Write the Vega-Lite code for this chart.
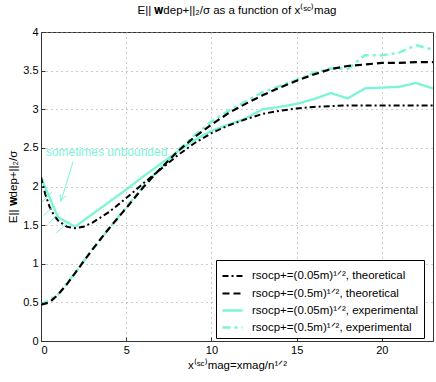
{
  "$schema": "https://vega.github.io/schema/vega-lite/v6.json",
  "width": 392,
  "height": 309,
  "autosize": {"type": "none"},
  "padding": {"left": 41, "top": 32, "right": 3, "bottom": 41},
  "background": "white",
  "config": {
    "font": "Liberation Sans",
    "view": {"stroke": "#333333", "strokeWidth": 1},
    "axis": {
      "labelFont": "Liberation Sans", "labelFontSize": 11, "labelColor": "black",
      "titleFont": "Liberation Sans", "titleFontSize": 11.5, "titleFontWeight": "normal", "titleColor": "black",
      "domainColor": "#333333", "tickColor": "#333333",
      "gridColor": "#9a9a9a", "gridDash": [1, 4], "gridWidth": 1,
      "tickSize": -4, "labelPadding": 7, "labelOverlap": false
    }
  },
  "title": {
    "text": "E|| 𝐰dep+||₂/σ as a function of x⁽ˢᶜ⁾mag",
    "font": "Liberation Sans", "fontSize": 11.5, "fontWeight": "normal", "color": "black",
    "anchor": "middle", "offset": 10
  },
  "datasets": {
    "curves": [
      {"series": "rsocp+=(0.05m)¹ᐟ², theoretical", "x": 0, "y": 2.12},
      {"series": "rsocp+=(0.05m)¹ᐟ², theoretical", "x": 0.25, "y": 1.9},
      {"series": "rsocp+=(0.05m)¹ᐟ², theoretical", "x": 0.5, "y": 1.74},
      {"series": "rsocp+=(0.05m)¹ᐟ², theoretical", "x": 0.75, "y": 1.63},
      {"series": "rsocp+=(0.05m)¹ᐟ², theoretical", "x": 1, "y": 1.56},
      {"series": "rsocp+=(0.05m)¹ᐟ², theoretical", "x": 1.5, "y": 1.48},
      {"series": "rsocp+=(0.05m)¹ᐟ², theoretical", "x": 2, "y": 1.46},
      {"series": "rsocp+=(0.05m)¹ᐟ², theoretical", "x": 2.5, "y": 1.48},
      {"series": "rsocp+=(0.05m)¹ᐟ², theoretical", "x": 3, "y": 1.53},
      {"series": "rsocp+=(0.05m)¹ᐟ², theoretical", "x": 4, "y": 1.67},
      {"series": "rsocp+=(0.05m)¹ᐟ², theoretical", "x": 5, "y": 1.85},
      {"series": "rsocp+=(0.05m)¹ᐟ², theoretical", "x": 6, "y": 2.04},
      {"series": "rsocp+=(0.05m)¹ᐟ², theoretical", "x": 7, "y": 2.22},
      {"series": "rsocp+=(0.05m)¹ᐟ², theoretical", "x": 8, "y": 2.4},
      {"series": "rsocp+=(0.05m)¹ᐟ², theoretical", "x": 9, "y": 2.56},
      {"series": "rsocp+=(0.05m)¹ᐟ², theoretical", "x": 10, "y": 2.69},
      {"series": "rsocp+=(0.05m)¹ᐟ², theoretical", "x": 11, "y": 2.79},
      {"series": "rsocp+=(0.05m)¹ᐟ², theoretical", "x": 12, "y": 2.87},
      {"series": "rsocp+=(0.05m)¹ᐟ², theoretical", "x": 13, "y": 2.94},
      {"series": "rsocp+=(0.05m)¹ᐟ², theoretical", "x": 14, "y": 2.98},
      {"series": "rsocp+=(0.05m)¹ᐟ², theoretical", "x": 15, "y": 3.01},
      {"series": "rsocp+=(0.05m)¹ᐟ², theoretical", "x": 16, "y": 3.03},
      {"series": "rsocp+=(0.05m)¹ᐟ², theoretical", "x": 17, "y": 3.04},
      {"series": "rsocp+=(0.05m)¹ᐟ², theoretical", "x": 18, "y": 3.05},
      {"series": "rsocp+=(0.05m)¹ᐟ², theoretical", "x": 19, "y": 3.05},
      {"series": "rsocp+=(0.05m)¹ᐟ², theoretical", "x": 20, "y": 3.05},
      {"series": "rsocp+=(0.05m)¹ᐟ², theoretical", "x": 21, "y": 3.05},
      {"series": "rsocp+=(0.05m)¹ᐟ², theoretical", "x": 22, "y": 3.05},
      {"series": "rsocp+=(0.05m)¹ᐟ², theoretical", "x": 23, "y": 3.05},

      {"series": "rsocp+=(0.5m)¹ᐟ², theoretical", "x": 0, "y": 0.47},
      {"series": "rsocp+=(0.5m)¹ᐟ², theoretical", "x": 0.5, "y": 0.5},
      {"series": "rsocp+=(0.5m)¹ᐟ², theoretical", "x": 1, "y": 0.6},
      {"series": "rsocp+=(0.5m)¹ᐟ², theoretical", "x": 1.5, "y": 0.73},
      {"series": "rsocp+=(0.5m)¹ᐟ², theoretical", "x": 2, "y": 0.88},
      {"series": "rsocp+=(0.5m)¹ᐟ², theoretical", "x": 2.5, "y": 1.03},
      {"series": "rsocp+=(0.5m)¹ᐟ², theoretical", "x": 3, "y": 1.18},
      {"series": "rsocp+=(0.5m)¹ᐟ², theoretical", "x": 3.5, "y": 1.32},
      {"series": "rsocp+=(0.5m)¹ᐟ², theoretical", "x": 4, "y": 1.46},
      {"series": "rsocp+=(0.5m)¹ᐟ², theoretical", "x": 5, "y": 1.72},
      {"series": "rsocp+=(0.5m)¹ᐟ², theoretical", "x": 6, "y": 1.99},
      {"series": "rsocp+=(0.5m)¹ᐟ², theoretical", "x": 7, "y": 2.23},
      {"series": "rsocp+=(0.5m)¹ᐟ², theoretical", "x": 8, "y": 2.45},
      {"series": "rsocp+=(0.5m)¹ᐟ², theoretical", "x": 9, "y": 2.64},
      {"series": "rsocp+=(0.5m)¹ᐟ², theoretical", "x": 10, "y": 2.8},
      {"series": "rsocp+=(0.5m)¹ᐟ², theoretical", "x": 11, "y": 2.95},
      {"series": "rsocp+=(0.5m)¹ᐟ², theoretical", "x": 12, "y": 3.07},
      {"series": "rsocp+=(0.5m)¹ᐟ², theoretical", "x": 13, "y": 3.18},
      {"series": "rsocp+=(0.5m)¹ᐟ², theoretical", "x": 14, "y": 3.28},
      {"series": "rsocp+=(0.5m)¹ᐟ², theoretical", "x": 15, "y": 3.37},
      {"series": "rsocp+=(0.5m)¹ᐟ², theoretical", "x": 16, "y": 3.45},
      {"series": "rsocp+=(0.5m)¹ᐟ², theoretical", "x": 17, "y": 3.52},
      {"series": "rsocp+=(0.5m)¹ᐟ², theoretical", "x": 18, "y": 3.56},
      {"series": "rsocp+=(0.5m)¹ᐟ², theoretical", "x": 19, "y": 3.58},
      {"series": "rsocp+=(0.5m)¹ᐟ², theoretical", "x": 20, "y": 3.6},
      {"series": "rsocp+=(0.5m)¹ᐟ², theoretical", "x": 21, "y": 3.6},
      {"series": "rsocp+=(0.5m)¹ᐟ², theoretical", "x": 22, "y": 3.61},
      {"series": "rsocp+=(0.5m)¹ᐟ², theoretical", "x": 23, "y": 3.61},

      {"series": "rsocp+=(0.05m)¹ᐟ², experimental", "x": 0, "y": 2.12},
      {"series": "rsocp+=(0.05m)¹ᐟ², experimental", "x": 1, "y": 1.6},
      {"series": "rsocp+=(0.05m)¹ᐟ², experimental", "x": 2, "y": 1.48},
      {"series": "rsocp+=(0.05m)¹ᐟ², experimental", "x": 3, "y": 1.64},
      {"series": "rsocp+=(0.05m)¹ᐟ², experimental", "x": 4, "y": 1.8},
      {"series": "rsocp+=(0.05m)¹ᐟ², experimental", "x": 5, "y": 1.96},
      {"series": "rsocp+=(0.05m)¹ᐟ², experimental", "x": 6, "y": 2.13},
      {"series": "rsocp+=(0.05m)¹ᐟ², experimental", "x": 7, "y": 2.29},
      {"series": "rsocp+=(0.05m)¹ᐟ², experimental", "x": 8, "y": 2.45},
      {"series": "rsocp+=(0.05m)¹ᐟ², experimental", "x": 9, "y": 2.6},
      {"series": "rsocp+=(0.05m)¹ᐟ², experimental", "x": 10, "y": 2.72},
      {"series": "rsocp+=(0.05m)¹ᐟ², experimental", "x": 11, "y": 2.8},
      {"series": "rsocp+=(0.05m)¹ᐟ², experimental", "x": 12, "y": 2.88},
      {"series": "rsocp+=(0.05m)¹ᐟ², experimental", "x": 13, "y": 3.0},
      {"series": "rsocp+=(0.05m)¹ᐟ², experimental", "x": 14, "y": 3.03},
      {"series": "rsocp+=(0.05m)¹ᐟ², experimental", "x": 15, "y": 3.07},
      {"series": "rsocp+=(0.05m)¹ᐟ², experimental", "x": 16, "y": 3.13},
      {"series": "rsocp+=(0.05m)¹ᐟ², experimental", "x": 17, "y": 3.21},
      {"series": "rsocp+=(0.05m)¹ᐟ², experimental", "x": 18, "y": 3.14},
      {"series": "rsocp+=(0.05m)¹ᐟ², experimental", "x": 19, "y": 3.27},
      {"series": "rsocp+=(0.05m)¹ᐟ², experimental", "x": 20, "y": 3.28},
      {"series": "rsocp+=(0.05m)¹ᐟ², experimental", "x": 21, "y": 3.29},
      {"series": "rsocp+=(0.05m)¹ᐟ², experimental", "x": 22, "y": 3.34},
      {"series": "rsocp+=(0.05m)¹ᐟ², experimental", "x": 23, "y": 3.27},

      {"series": "rsocp+=(0.5m)¹ᐟ², experimental", "x": 0, "y": 0.47},
      {"series": "rsocp+=(0.5m)¹ᐟ², experimental", "x": 1, "y": 0.6},
      {"series": "rsocp+=(0.5m)¹ᐟ², experimental", "x": 2, "y": 0.88},
      {"series": "rsocp+=(0.5m)¹ᐟ², experimental", "x": 3, "y": 1.18},
      {"series": "rsocp+=(0.5m)¹ᐟ², experimental", "x": 4, "y": 1.46},
      {"series": "rsocp+=(0.5m)¹ᐟ², experimental", "x": 5, "y": 1.73},
      {"series": "rsocp+=(0.5m)¹ᐟ², experimental", "x": 6, "y": 2.0},
      {"series": "rsocp+=(0.5m)¹ᐟ², experimental", "x": 7, "y": 2.24},
      {"series": "rsocp+=(0.5m)¹ᐟ², experimental", "x": 8, "y": 2.46},
      {"series": "rsocp+=(0.5m)¹ᐟ², experimental", "x": 9, "y": 2.66},
      {"series": "rsocp+=(0.5m)¹ᐟ², experimental", "x": 10, "y": 2.84},
      {"series": "rsocp+=(0.5m)¹ᐟ², experimental", "x": 11, "y": 2.98},
      {"series": "rsocp+=(0.5m)¹ᐟ², experimental", "x": 12, "y": 3.1},
      {"series": "rsocp+=(0.5m)¹ᐟ², experimental", "x": 13, "y": 3.22},
      {"series": "rsocp+=(0.5m)¹ᐟ², experimental", "x": 14, "y": 3.3},
      {"series": "rsocp+=(0.5m)¹ᐟ², experimental", "x": 15, "y": 3.38},
      {"series": "rsocp+=(0.5m)¹ᐟ², experimental", "x": 16, "y": 3.47},
      {"series": "rsocp+=(0.5m)¹ᐟ², experimental", "x": 17, "y": 3.53},
      {"series": "rsocp+=(0.5m)¹ᐟ², experimental", "x": 18, "y": 3.52},
      {"series": "rsocp+=(0.5m)¹ᐟ², experimental", "x": 19, "y": 3.7},
      {"series": "rsocp+=(0.5m)¹ᐟ², experimental", "x": 20, "y": 3.7},
      {"series": "rsocp+=(0.5m)¹ᐟ², experimental", "x": 21, "y": 3.73},
      {"series": "rsocp+=(0.5m)¹ᐟ², experimental", "x": 22, "y": 3.83},
      {"series": "rsocp+=(0.5m)¹ᐟ², experimental", "x": 23, "y": 3.77}
    ],
    "notes": [
      {"x": 0.29, "y": 2.45, "label": "sometimes unbounded"}
    ],
    "segs": [
      {"x": 0.05, "y": 1.8, "x2": 0.65, "y2": 1.93},
      {"x": 0.15, "y": 1.62, "x2": 0.75, "y2": 1.75},
      {"x": 0.45, "y": 1.52, "x2": 1.1, "y2": 1.66},
      {"x": 0.9, "y": 1.4, "x2": 1.7, "y2": 1.55},
      {"x": 1.88, "y": 2.32, "x2": 1.17, "y2": 1.81},
      {"x": 1.17, "y": 1.81, "x2": 1.44, "y2": 1.88},
      {"x": 1.17, "y": 1.81, "x2": 1.12, "y2": 1.9}
    ]
  },
  "encoding": {
    "x": {"field": "x", "type": "quantitative", "scale": {"domain": [0, 23], "nice": false, "zero": false},
          "axis": {"values": [0, 5, 10, 15, 20], "title": "x⁽ˢᶜ⁾mag=xmag/n¹ᐟ²", "titlePadding": 4, "format": "~g"}},
    "y": {"field": "y", "type": "quantitative", "scale": {"domain": [0, 4], "nice": false},
          "axis": {"values": [0, 0.5, 1, 1.5, 2, 2.5, 3, 3.5, 4], "title": "E|| 𝐰dep+||₂/σ", "titlePadding": 4, "format": "~g"}}
  },
  "layer": [
    {
      "data": {"name": "curves"},
      "transform": [{"filter": "indexof(datum.series, 'experimental') >= 0"}],
      "mark": {"type": "line", "strokeCap": "butt", "clip": true},
      "encoding": {
        "color": {"field": "series", "type": "nominal",
          "scale": {"domain": ["rsocp+=(0.05m)¹ᐟ², theoretical", "rsocp+=(0.5m)¹ᐟ², theoretical", "rsocp+=(0.05m)¹ᐟ², experimental", "rsocp+=(0.5m)¹ᐟ², experimental"],
                    "range": ["black", "black", "#7CF5D6", "#7CF5D6"]},
          "legend": {"orient": "none", "legendX": 175, "legendY": 228, "title": null,
                     "strokeColor": "black", "fillColor": "white", "padding": 5, "rowPadding": -1.5,
                     "labelFontSize": 11.5, "labelFont": "Liberation Sans", "labelColor": "black", "labelLimit": 400,
                     "symbolSize": 400, "labelOffset": 8, "symbolType": "stroke"}},
        "strokeDash": {"field": "series", "type": "nominal",
          "scale": {"domain": ["rsocp+=(0.05m)¹ᐟ², theoretical", "rsocp+=(0.5m)¹ᐟ², theoretical", "rsocp+=(0.05m)¹ᐟ², experimental", "rsocp+=(0.5m)¹ᐟ², experimental"],
                    "range": [[6, 3, 2, 3], [7, 4], [1, 0], [8, 4, 3, 4]]}},
        "strokeWidth": {"field": "series", "type": "nominal",
          "scale": {"domain": ["rsocp+=(0.05m)¹ᐟ², theoretical", "rsocp+=(0.5m)¹ᐟ², theoretical", "rsocp+=(0.05m)¹ᐟ², experimental", "rsocp+=(0.5m)¹ᐟ², experimental"],
                    "range": [2, 2.5, 1.5, 4]}}
      }
    },
    {
      "data": {"name": "curves"},
      "transform": [{"filter": "indexof(datum.series, 'theoretical') >= 0"}],
      "mark": {"type": "line", "strokeCap": "butt", "clip": true},
      "encoding": {
        "color": {"field": "series", "type": "nominal"},
        "strokeDash": {"field": "series", "type": "nominal"},
        "strokeWidth": {"field": "series", "type": "nominal"}
      }
    },
    {
      "data": {"name": "segs"},
      "mark": {"type": "rule", "color": "#7CF5D6", "strokeWidth": 1},
      "encoding": {
        "x2": {"field": "x2"},
        "y2": {"field": "y2"}
      }
    },
    {
      "data": {"name": "notes"},
      "mark": {"type": "text", "align": "left", "baseline": "middle", "color": "#7CF5D6", "fontSize": 12, "font": "Liberation Sans"},
      "encoding": {
        "text": {"field": "label"}
      }
    }
  ]
}
